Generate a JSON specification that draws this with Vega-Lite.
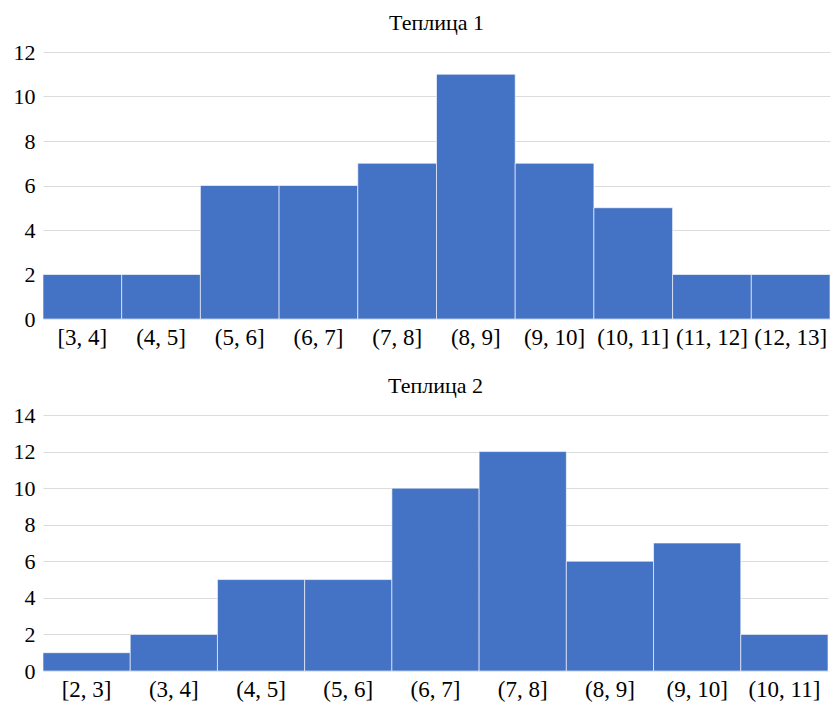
{
  "$schema": "https://vega.github.io/schema/vega-lite/v6.json",
  "padding": {"left": 13, "top": 12, "right": 2, "bottom": 3},
  "spacing": 26,
  "config": {
    "font": "'Liberation Serif', serif",
    "view": {"stroke": null},
    "axis": {"labelFont": "'Liberation Serif', serif", "labelFontSize": 22, "labelColor": "#000", "domain": false, "ticks": false, "title": null, "labelOverlap": false},
    "axisX": {"labelAngle": 0, "labelPadding": 7, "grid": false, "labelFontSize": 23},
    "axisY": {"labelPadding": 8, "gridColor": "#dcdcdc"},
    "title": {"font": "'Liberation Serif', serif", "fontSize": 22, "fontWeight": "normal", "color": "#000", "offset": 6}
  },
  "datasets": {
    "t1": [
      {"bin": "[3, 4]", "count": 2},
      {"bin": "(4, 5]", "count": 2},
      {"bin": "(5, 6]", "count": 6},
      {"bin": "(6, 7]", "count": 6},
      {"bin": "(7, 8]", "count": 7},
      {"bin": "(8, 9]", "count": 11},
      {"bin": "(9, 10]", "count": 7},
      {"bin": "(10, 11]", "count": 5},
      {"bin": "(11, 12]", "count": 2},
      {"bin": "(12, 13]", "count": 2}
    ],
    "t2": [
      {"bin": "[2, 3]", "count": 1},
      {"bin": "(3, 4]", "count": 2},
      {"bin": "(4, 5]", "count": 5},
      {"bin": "(5, 6]", "count": 5},
      {"bin": "(6, 7]", "count": 10},
      {"bin": "(7, 8]", "count": 12},
      {"bin": "(8, 9]", "count": 6},
      {"bin": "(9, 10]", "count": 7},
      {"bin": "(10, 11]", "count": 2}
    ]
  },
  "vconcat": [
    {
      "title": "Теплица 1",
      "width": 787,
      "height": 267,
      "data": {"name": "t1"},
      "mark": {"type": "bar", "color": "#4472C4", "stroke": "#ffffff", "strokeWidth": 1, "strokeOpacity": 0.6},
      "encoding": {
        "x": {"field": "bin", "type": "nominal", "sort": null, "scale": {"paddingInner": 0, "paddingOuter": 0}},
        "y": {"field": "count", "type": "quantitative", "scale": {"domain": [0, 12], "nice": false}, "axis": {"values": [0, 2, 4, 6, 8, 10, 12]}}
      }
    },
    {
      "title": "Теплица 2",
      "width": 785,
      "height": 256,
      "data": {"name": "t2"},
      "mark": {"type": "bar", "color": "#4472C4", "stroke": "#ffffff", "strokeWidth": 1, "strokeOpacity": 0.6},
      "encoding": {
        "x": {"field": "bin", "type": "nominal", "sort": null, "scale": {"paddingInner": 0, "paddingOuter": 0}},
        "y": {"field": "count", "type": "quantitative", "scale": {"domain": [0, 14], "nice": false}, "axis": {"values": [0, 2, 4, 6, 8, 10, 12, 14]}}
      }
    }
  ]
}
